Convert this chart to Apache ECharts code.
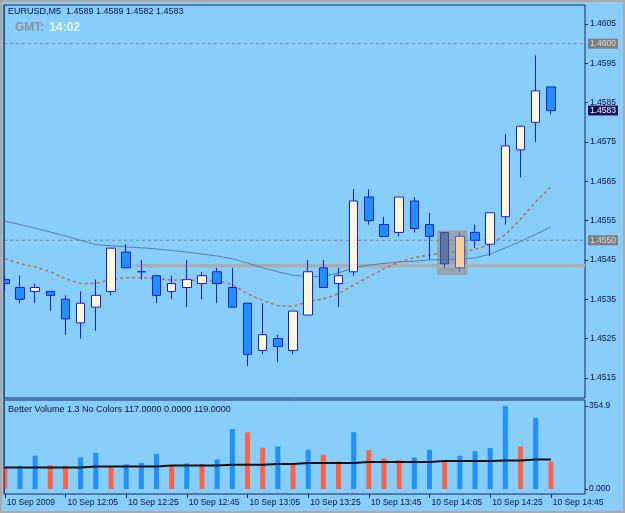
<!DOCTYPE html>
<html><head><meta charset="utf-8">
<script src="https://cdn.jsdelivr.net/npm/echarts@6/dist/echarts.min.js"></script>
<style>html,body{margin:0;padding:0;background:#87CEFA}#c{width:625px;height:513px}</style>
</head><body><div id="c"></div>
<script>
// ---------- data ----------
const symbol = "EURUSD,M5";
const lastOHLC = ["1.4589", "1.4589", "1.4582", "1.4583"];
const gmtTime = "14:02";
const volTitle = "Better Volume 1.3 No Colors 117.0000 0.0000 119.0000";

const opens  = [1.4540,1.4538,1.4537,1.4537,1.4535,1.4529,1.4533,1.4537,1.4547,1.4542,1.4541,1.4537,1.4538,1.4539,1.4542,1.4538,1.4534,1.4522,1.4525,1.4522,1.4531,1.4543,1.4539,1.4542,1.4561,1.4554,1.4552,1.4560,1.4554,1.4552,1.4543,1.4552,1.4549,1.4556,1.4573,1.4580,1.4589];
const closes = [1.4539,1.4535,1.4538,1.4536,1.4530,1.4534,1.4536,1.4548,1.4543,1.4542,1.4536,1.4539,1.4540,1.4541,1.4539,1.4533,1.4521,1.4526,1.4523,1.4532,1.4542,1.4538,1.4541,1.4560,1.4555,1.4551,1.4561,1.4553,1.4551,1.4544,1.4551,1.4550,1.4557,1.4574,1.4579,1.4588,1.4583];
const lows   = [1.4537,1.4534,1.4534,1.4532,1.4526,1.4525,1.4527,1.4536,1.4543,1.4540,1.4534,1.4535,1.4533,1.4535,1.4534,1.4533,1.4518,1.4521,1.4519,1.4521,1.4531,1.4538,1.4533,1.4541,1.4554,1.4551,1.4551,1.4552,1.4545,1.4543,1.4542,1.4548,1.4546,1.4554,1.4566,1.4575,1.4582];
const highs  = [1.4541,1.4541,1.4539,1.4537,1.4536,1.4537,1.4540,1.4548,1.4549,1.4545,1.4541,1.4541,1.4545,1.4542,1.4543,1.4543,1.4534,1.4534,1.4526,1.4532,1.4545,1.4545,1.4543,1.4563,1.4563,1.4556,1.4561,1.4561,1.4557,1.4552,1.4552,1.4554,1.4557,1.4577,1.4579,1.4597,1.4589];

const slowMA = [1.45549,1.45540,1.45531,1.45521,1.45511,1.45500,1.45489,1.45486,1.45483,1.45481,1.45478,1.45474,1.45470,1.45465,1.45460,1.45453,1.45442,1.45430,1.45420,1.45411,1.45408,1.45408,1.45417,1.45430,1.45437,1.45441,1.45445,1.45447,1.45450,1.45451,1.45453,1.45455,1.45465,1.45481,1.45497,1.45515,1.45534];
const fastMA = [1.45453,1.45441,1.45432,1.45420,1.45402,1.45390,1.45390,1.45400,1.45405,1.45405,1.45403,1.45399,1.45399,1.45398,1.45397,1.45388,1.45364,1.45347,1.45334,1.45332,1.45344,1.45351,1.45364,1.45386,1.45407,1.45428,1.45445,1.45456,1.45463,1.45469,1.45472,1.45477,1.45489,1.45514,1.45554,1.45598,1.45636];

const volumes   = [89,99,142,102,99,135,155,92,106,111,150,97,109,106,126,256,243,176,182,104,168,146,118,243,166,131,125,135,168,118,142,162,175,354.9,182,304,117];
const volDir    = ["d","u","u","d","d","u","u","d","u","u","u","d","u","d","u","u","d","d","u","d","u","d","d","u","d","d","d","u","u","d","u","u","u","u","d","u","d"];
const volAvg    = [92,92,92,92,92,92,96.6,96.6,96.6,96.6,96.6,100.8,100.8,100.8,100.8,103.7,103.7,103.7,106.5,106.5,110.8,110.8,110.8,110.8,115,115,115,115,115,119.3,119.3,119.3,119.3,122.1,122.1,126.4,126.4];

const dateTickBars = [0,4,8,12,16,20,24,28,32,36];
const dateLabels = ["10 Sep 2009","10 Sep 12:05","10 Sep 12:25","10 Sep 12:45","10 Sep 13:05","10 Sep 13:25","10 Sep 13:45","10 Sep 14:05","10 Sep 14:25","10 Sep 14:45"];
const priceTicks = [1.4515,1.4525,1.4535,1.4545,1.4555,1.4565,1.4575,1.4585,1.4595,1.4605];
const volTicks = [0, 354.9];
const volTickLabels = ["0.000", "354.9"];
const levelLines = [1.4600, 1.4550];
const bidPrice = 1.4583;
const supportLevel = 1.45435;
const supportStartBar = 8.6;
const boxBars = [28.5, 30.5];
const boxPrices = [1.45412, 1.45525];

// ---------- styles ----------
const NAVY = '#1b2660';
const TXT = '#0c1040';
const FONT = 'Liberation Sans';
const XMIN = -0.053, XMAX = 38.25;

const candleData = opens.map((o, i) => {
  const item = { value: [i, o, closes[i], lows[i], highs[i]] };
  if (i === 29) item.itemStyle = { color0: '#5a78a0', borderColor0: '#3444a8' };
  if (i === 30) item.itemStyle = { color: '#f6cf9e', borderColor: '#5a5ac0' };
  return item;
});

const levelLabel = { show: true, position: 'end', distance: 3, backgroundColor: '#7e7e7e', color: '#dcdcdc',
  padding: [1, 2, 0, 2], fontSize: 8.5, fontFamily: FONT };

function levelSeries(price, lineStyle, label) {
  return { type: 'line', xAxisIndex: 0, yAxisIndex: 0, data: [[XMIN, price], [XMAX, price]], z: 2, silent: true,
    showSymbol: false, symbol: 'none', lineStyle: lineStyle,
    endLabel: Object.assign({}, levelLabel, { formatter: () => price.toFixed(4) }, label || {}) };
}

const chart = echarts.init(document.getElementById('c'), null, { renderer: 'canvas' });
chart.setOption({
  animation: false,
  backgroundColor: '#87CEFA',
  textStyle: { fontFamily: FONT },
  title: [
    { text: symbol + '  ' + lastOHLC.join(' '), left: 8, top: 7, padding: 0,
      textStyle: { fontSize: 9, fontWeight: 'normal', color: TXT, fontFamily: FONT } },
    { text: '{g|GMT:} {t|' + gmtTime + '}', left: 15, top: 19, padding: 0,
      textStyle: { fontFamily: FONT, rich: { g: { color: '#8a949c', fontSize: 12, fontFamily: FONT }, t: { color: '#eaf6ff', fontSize: 12, fontFamily: FONT } } } },
    { text: volTitle, left: 8, top: 405, padding: 0,
      textStyle: { fontSize: 9, fontWeight: 'normal', color: TXT, fontFamily: FONT } }
  ],
  graphic: [
    { type: 'rect', shape: { x: 0, y: 0, width: 3.5, height: 513 }, style: { fill: '#87CEFA' }, silent: true, z: 99 },
    { type: 'line', shape: { x1: 4, y1: 5, x2: 4, y2: 494 }, style: { stroke: NAVY, lineWidth: 1 }, silent: true, z: 99 },
    { type: 'rect', shape: { x: 0, y: 0, width: 625, height: 513 }, style: { fill: 'none', stroke: '#a9a9a9', lineWidth: 4 }, silent: true, z: 100 }
  ],
  grid: [
    { left: 4, top: 5, width: 581, height: 393, show: true, borderColor: NAVY, borderWidth: 1, backgroundColor: 'transparent' },
    { left: 4, top: 400, width: 581, height: 94, show: true, borderColor: NAVY, borderWidth: 1, backgroundColor: 'transparent' }
  ],
  xAxis: [
    { type: 'value', gridIndex: 0, min: XMIN, max: XMAX, axisLine: { show: false, onZero: false }, axisTick: { show: false }, axisLabel: { show: false }, splitLine: { show: false } },
    { type: 'value', gridIndex: 1, min: XMIN, max: XMAX, position: 'bottom', axisLine: { show: false, onZero: false }, splitLine: { show: false },
      axisTick: { show: true, customValues: dateTickBars, length: 4, lineStyle: { color: NAVY } },
      axisLabel: { customValues: dateTickBars, formatter: v => dateLabels[dateTickBars.indexOf(Math.round(v))],
        align: 'left', padding: [0, 0, 0, 2], margin: 4, fontSize: 8.5, color: TXT, fontFamily: FONT, hideOverlap: false } }
  ],
  yAxis: [
    { type: 'value', gridIndex: 0, position: 'right', min: 1.45099, max: 1.460983, axisLine: { show: false, onZero: false }, splitLine: { show: false },
      axisTick: { show: true, customValues: priceTicks, length: 3, lineStyle: { color: NAVY } },
      axisLabel: { customValues: priceTicks, formatter: v => v.toFixed(4), margin: 5, fontSize: 8.5, color: TXT, fontFamily: FONT } },
    { type: 'value', gridIndex: 1, position: 'right', min: -21.4, max: 380.6, axisLine: { show: false, onZero: false }, splitLine: { show: false },
      axisTick: { show: true, customValues: volTicks, length: 3, lineStyle: { color: NAVY } },
      axisLabel: { customValues: volTicks, formatter: v => volTickLabels[volTicks.indexOf(v)] || '', margin: 4, fontSize: 8.5, color: TXT, fontFamily: FONT } }
  ],
  series: [
    { type: 'line', xAxisIndex: 0, yAxisIndex: 0, data: [[supportStartBar, supportLevel], [XMAX, supportLevel]], z: 1, silent: true,
      showSymbol: false, symbol: 'none', lineStyle: { color: '#a7afb5', width: 3.5 },
      markArea: { silent: true, itemStyle: { color: 'rgba(150,158,162,0.85)' },
        data: [[{ coord: [boxBars[0], boxPrices[1]] }, { coord: [boxBars[1], boxPrices[0]] }]] } },
    levelSeries(levelLines[0], { color: '#7f8a93', width: 1, type: [3, 3] }),
    levelSeries(levelLines[1], { color: '#7f8a93', width: 1, type: [3, 3] }),
    levelSeries(bidPrice, { opacity: 0 }, { backgroundColor: '#151560', color: '#ffffff', borderColor: '#c8d0ff', borderWidth: 0.5 }),
    { type: 'line', xAxisIndex: 0, yAxisIndex: 0, data: slowMA.map((v, i) => [i, v]), showSymbol: false, symbol: 'none', z: 2,
      lineStyle: { color: '#5b7fa6', width: 1 } },
    { type: 'line', xAxisIndex: 0, yAxisIndex: 0, data: fastMA.map((v, i) => [i, v]), showSymbol: false, symbol: 'none', z: 2,
      lineStyle: { color: '#c0703a', width: 1.5, type: [3, 3] } },
    { type: 'candlestick', xAxisIndex: 0, yAxisIndex: 0, data: candleData, encode: { x: 0, y: [1, 2, 3, 4] }, barWidth: 9, z: 3, clip: true,
      itemStyle: { color: '#FFF8DC', color0: '#1E90FF', borderColor: '#1a1ae6', borderColor0: '#1a1ae6', borderWidth: 1 } },
    { type: 'bar', xAxisIndex: 1, yAxisIndex: 1, barWidth: 5, z: 2, clip: true,
      data: volumes.map((v, i) => ({ value: [i, v], itemStyle: { color: volDir[i] === 'u' ? '#1E90FF' : '#FF6347' } })) },
    { type: 'line', xAxisIndex: 1, yAxisIndex: 1, data: volAvg.map((v, i) => [i, v]), showSymbol: false, symbol: 'none', z: 3,
      lineStyle: { color: '#111111', width: 2 } }
  ]
});
</script></body></html>
